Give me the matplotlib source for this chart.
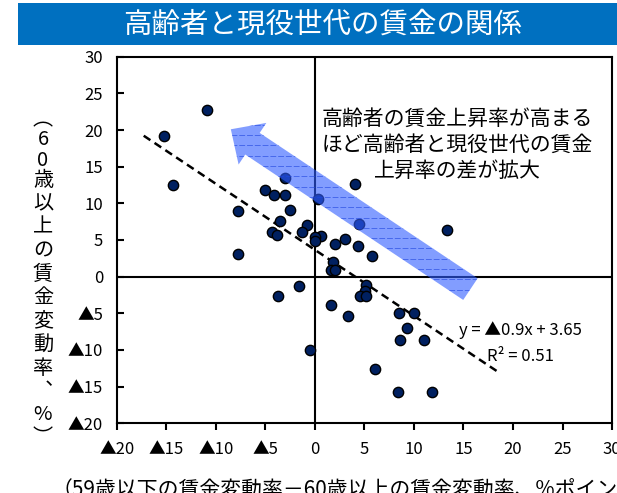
import numpy as np
import matplotlib.pyplot as plt
from matplotlib.patches import Polygon, Rectangle
from matplotlib.lines import Line2D
from matplotlib.transforms import IdentityTransform

plt.rcParams['font.family'] = ['Liberation Sans', 'Noto Sans CJK JP', 'DejaVu Sans']
JP = ['Noto Sans CJK JP', 'DejaVu Sans']

### data: x = 59歳以下 - 60歳以上 の賃金変動率差, y = 60歳以上の賃金変動率
gap = [-15.3, -10.9, -14.3, -7.8, -7.8,
       -5.0, -4.1, -3.0, -3.0, -2.5, -3.5, -4.3, -3.8,
       -0.8, -1.3, 0.3, 0.6, 0.0, 0.0,
       2.0, 3.0, 4.3, 4.4, 4.0, 5.8, 13.3,
       1.85, 1.6, 2.0,
       5.2, 5.1, 4.5, 5.2,
       -1.6, -3.7, 1.6, 3.3,
       8.5, 10.0, 9.3, 8.6, 11.0,
       -0.5, 6.1, 8.35, 11.8]
wage60 = [19.2, 22.7, 12.5, 8.9, 3.1,
          11.8, 11.1, 11.1, 13.4, 9.1, 7.6, 6.1, 5.7,
          7.05, 6.1, 10.6, 5.6, 5.4, 4.8,
          4.5, 5.1, 4.2, 7.2, 12.7, 2.8, 6.3,
          1.95, 0.85, 0.85,
          -1.1, -1.9, -2.6, -2.6,
          -1.3, -2.6, -3.9, -5.3,
          -4.9, -5.0, -7.0, -8.6, -8.6,
          -10.0, -12.6, -15.7, -15.7]

# trend line
slope = -0.9
intercept = 3.65
r2 = 0.51
fit_x = [-17.3, 18.35]

ticks = np.arange(-20, 31, 5)
tick_labels = [("▲%d" % -t) if t < 0 else str(t) for t in ticks]

title = "高齢者と現役世代の賃金の関係"
note = "高齢者の賃金上昇率が高まる\nほど高齢者と現役世代の賃金\n上昇率の差が拡大"
ylab = "︵60歳以上の賃金変動率︑%︶"
xlab = "（59歳以下の賃金変動率－60歳以上の賃金変動率、%ポイント）"

# arrow from tail to tip (data coords)
arrow_tail = (15.7, -1.7)
arrow_tip = (-8.5, 20.1)

### plotting
fig = plt.figure(figsize=(6.17, 4.93), dpi=100)
ax = fig.add_axes([0.1896, 0.1414, 0.8023, 0.7436])
ax.set_xlim(-20, 30)
ax.set_ylim(-20, 30)

# title band
fig.add_artist(Rectangle((0.029, 0.9087), 0.971, 0.0852,
                         transform=fig.transFigure, color="#0070C0", lw=0))
fig.text(0.5235, 0.951, title, color="white", fontsize=20.5,
         ha="center", va="center", family=JP)

ax.axhline(0, color="black", lw=1.5, zorder=2)
ax.axvline(0, color="black", lw=1.5, zorder=2)

fx = np.array(fit_x)
ax.plot(fx, slope * fx + intercept, color="black", lw=1.8,
        linestyle=(0, (3.2, 2.0)), zorder=2.5)

ax.scatter(gap, wage60, s=55, color="#002060", edgecolor="black",
           linewidth=1.0, zorder=3)

for sp in ax.spines.values():
    sp.set_linewidth(1.5)

ax.set_xticks(ticks)
ax.set_xticklabels(tick_labels, family=JP)
ax.set_yticks(ticks)
ax.set_yticklabels(tick_labels, family=JP)
ax.tick_params(axis="x", direction="out", length=5, width=1.5, pad=8, labelsize=12)
ax.tick_params(axis="y", direction="in", length=5, width=1.5, pad=10, labelsize=12)

ax.text(14.4, 18.0, note, fontsize=15, ha="center", va="center",
        linespacing=1.25, family=JP)
ax.text(20.8, -7.3, "y = ▲%.1fx + %.2f" % (-slope, intercept), fontsize=12,
        ha="center", va="center", family=JP)
ax.text(20.8, -10.9, "R² = %.2f" % r2, fontsize=12, ha="center", va="center",
        family=JP)

# vertical y label, one character per row
ypx = 120.0
for ch in ylab:
    fig.text(43 / 617, 1 - ypx / 493, ch, fontsize=14.5, ha="center",
             va="center", family=JP)
    ypx += 20 if ch in "︵︶" else (20 if ch.isdigit() else 23.5)

fig.text(52 / 617, 0.004, xlab, fontsize=15, ha="left", va="center", family=JP)

# big translucent arrow, built in display pixels
p0 = ax.transData.transform(arrow_tail)
p1 = ax.transData.transform(arrow_tip)
u = (p1 - p0) / np.hypot(*(p1 - p0))
n = np.array([-u[1], u[0]])
body_w, head_w, head_l = 26, 50, 26
neck = p1 - u * head_l
verts = [p0 + n * body_w / 2, neck + n * body_w / 2, neck + n * head_w / 2, p1,
         neck - n * head_w / 2, neck - n * body_w / 2, p0 - n * body_w / 2]
arrow = Polygon(verts, closed=True, transform=IdentityTransform(),
                facecolor="#2F5CFF", alpha=0.6, lw=0, zorder=4)
ax.add_patch(arrow)
vs = np.array(verts)
for yy in np.arange(vs[:, 1].min(), vs[:, 1].max(), 10.3):
    ln = Line2D([vs[:, 0].min(), vs[:, 0].max()], [yy, yy], transform=IdentityTransform(),
                color="#1F45E0", lw=0.7, alpha=0.6, linestyle=(0, (6, 2)), zorder=4.5)
    ln.set_clip_path(arrow)
    ax.add_artist(ln)

plt.savefig("out.png", dpi=100)
